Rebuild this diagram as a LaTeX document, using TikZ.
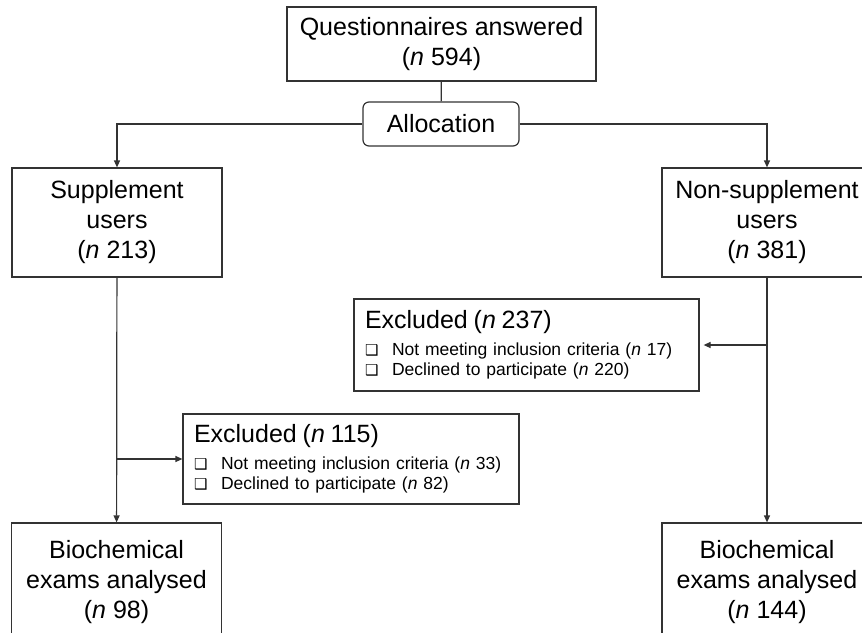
\documentclass[tikz,border=0pt]{standalone}
\usepackage{fontspec}
\setmainfont{Liberation Sans}
\newfontfamily\symfont{DejaVu Sans}
\usetikzlibrary{positioning,arrows.meta}
\newcommand{\nn}{\textit{n}}
\newcommand{\chk}{\makebox[27pt][l]{\symfont\fontsize{15}{15}\selectfont\char"2751}}
\newcommand{\exhead}[1]{{\fontsize{25}{30}\selectfont #1}\\[7pt]}

\begin{document}
\begin{tikzpicture}[x=1pt, y=-1pt,
  box/.style={draw=black!80, line width=1.2pt, align=center, inner sep=0pt, font=\fontsize{25}{30}\selectfont},
  allocbox/.style={box, rounded corners=6pt, minimum width=156pt, minimum height=44pt},
  grpbox/.style={box, minimum width=210pt, minimum height=109pt},
  endbox/.style={box, minimum width=210pt, minimum height=118pt},
  exbox/.style={draw=black!80, line width=1.2pt, align=left, inner xsep=11pt, inner ysep=0pt, font=\fontsize{17.5}{20}\selectfont},
  ln/.style={draw=black!80, line width=1.2pt},
  ar/.style={ln, -{Triangle[length=7pt,width=6pt]}}]

  \useasboundingbox (0,0) rectangle (862,632);

  \node[box, minimum width=309pt, minimum height=74pt] (quest) at (441.5,44) {Questionnaires answered\\ (\nn{} 594)};
  \node[allocbox] (alloc) at (441,124) {Allocation};
  \node[grpbox] (supp) at (117,222.5) {Supplement\\ users\\ (\nn{} 213)};
  \node[grpbox] (nonsupp) at (767,222.5) {Non-supplement\\ users\\ (\nn{} 381)};
  \node[exbox, text width=323pt, minimum height=92pt] (exr) at (526.5,345)
    {\exhead{Excluded (\nn{} 237)}\chk Not meeting inclusion criteria (\nn{} 17)\\ \chk Declined to participate (\nn{} 220)};
  \node[exbox, text width=314pt, minimum height=90pt] (exl) at (351,459)
    {\exhead{Excluded (\nn{} 115)}\chk Not meeting inclusion criteria (\nn{} 33)\\ \chk Declined to participate (\nn{} 82)};
  \node[endbox] (bioa) at (116.5,582) {Biochemical\\ exams analysed\\ (\nn{} 98)};
  \node[endbox] (biob) at (767,582) {Biochemical\\ exams analysed\\ (\nn{} 144)};

  \coordinate (lbr) at (supp.south |- exl.west);
  \coordinate (rbr) at (nonsupp.south |- exr.east);

  \draw[ln] (quest) -- (alloc);
  \draw[ar] (alloc.west) -| (supp.north);
  \draw[ar] (alloc.east) -| (nonsupp.north);
  \draw[ar] (supp) -- (bioa);
  \draw[ar] (nonsupp) -- (biob);
  \draw[ar] (lbr) -- (exl.west);
  \draw[ar] (rbr) -- ([xshift=4pt]exr.east);
\end{tikzpicture}
\end{document}
